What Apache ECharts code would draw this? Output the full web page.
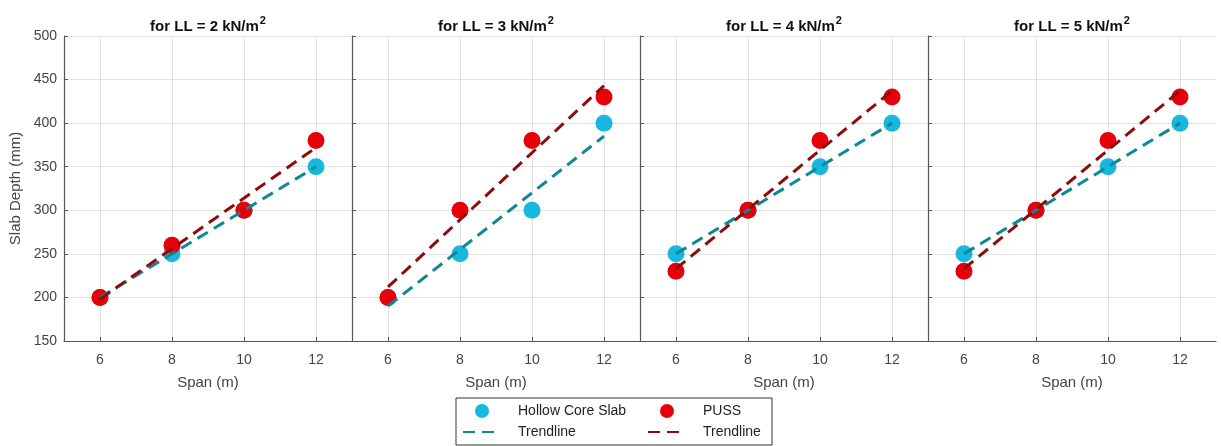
<!DOCTYPE html>
<html>
<head>
<meta charset="utf-8">
<script src="https://cdn.jsdelivr.net/npm/echarts@6/dist/echarts.min.js"></script>
<style>
  html, body { margin: 0; padding: 0; background: #fff; }
  #chart { width: 1221px; height: 446px; }
</style>
</head>
<body>
<div id="chart"></div>
<script>
// live loads shown in the four panels (kN/m2)
const loads = [2, 3, 4, 5];
const spans = [6, 8, 10, 12];

// slab depth (mm) for each load case
const hollowCore = [
  [200, 250, 300, 350],
  [200, 250, 300, 400],
  [250, 300, 350, 400],
  [250, 300, 350, 400],
];
const puss = [
  [200, 260, 300, 380],
  [200, 300, 380, 430],
  [230, 300, 380, 430],
  [230, 300, 380, 430],
];

// trendline end points: [depth at span 6, depth at span 12]
const trendSpans = [6, 12];
const hollowTrend = [
  [200, 350],
  [190, 385],
  [250, 400],
  [250, 400],
];
const pussTrend = [
  [198, 372],
  [212, 443],
  [233, 437],
  [233, 437],
];

const FONT = "Liberation Sans, Arial, sans-serif";
const cyan = "#16b8de";
const red = "#e6000a";
const teal = "#0f8797";
const darkRed = "#8e0c0c";

const chart = echarts.init(document.getElementById("chart"));

const gridLeft = 64, gridW = 288, gridTop = 36, gridH = 305;

const grids = [], xAxes = [], yAxes = [], series = [], titles = [];

loads.forEach((ll, i) => {
  grids.push({ left: gridLeft + i * gridW, top: gridTop, width: gridW, height: gridH });

  titles.push({
    text: "{a|for LL = " + ll + " kN/m}{s|2}",
    left: gridLeft + i * gridW + gridW / 2 - 5,
    top: 10,
    textAlign: "center",
    textStyle: {
      rich: {
        a: { fontFamily: FONT, fontSize: 15, fontWeight: "bold", color: "#111", verticalAlign: "bottom", lineHeight: 18 },
        s: { fontFamily: FONT, fontSize: 11, fontWeight: "bold", color: "#111", verticalAlign: "top", padding: [0, 0, 8, 1] },
      },
    },
  });

  xAxes.push({
    gridIndex: i,
    type: "value",
    min: 5,
    max: 13,
    name: "Span (m)",
    nameLocation: "middle",
    nameGap: 34,
    nameTextStyle: { fontFamily: FONT, fontSize: 15, color: "#444" },
    axisLine: { show: true, onZero: false, lineStyle: { color: "#555", width: 1.2 } },
    axisTick: { show: true, inside: true, length: 4, customValues: spans, lineStyle: { color: "#555" } },
    axisLabel: { customValues: spans, margin: 12, fontFamily: FONT, fontSize: 14, color: "#444" },
    splitLine: { show: true, lineStyle: { color: "#e2e2e2", width: 1 } },
  });

  yAxes.push({
    gridIndex: i,
    type: "value",
    min: 150,
    max: 500,
    interval: 50,
    name: i === 0 ? "Slab Depth (mm)" : "",
    nameLocation: "middle",
    nameGap: 41,
    nameTextStyle: { fontFamily: FONT, fontSize: 15, color: "#444" },
    axisLine: { show: true, onZero: false, lineStyle: { color: "#555", width: 1.2 } },
    axisTick: { show: true, inside: true, length: 4, lineStyle: { color: "#555" } },
    axisLabel: { show: i === 0, margin: 7, fontFamily: FONT, fontSize: 14, color: "#444" },
    splitLine: { show: true, lineStyle: { color: "#e2e2e2", width: 1 } },
  });

  series.push({
    name: "Hollow Core Slab",
    type: "scatter",
    xAxisIndex: i, yAxisIndex: i,
    symbolSize: 17,
    itemStyle: { color: cyan, opacity: 1 },
    z: 2,
    data: spans.map((s, k) => [s, hollowCore[i][k]]),
  });
  series.push({
    name: "PUSS",
    type: "scatter",
    xAxisIndex: i, yAxisIndex: i,
    symbolSize: 17,
    itemStyle: { color: red, opacity: 1 },
    z: 2,
    data: spans.map((s, k) => [s, puss[i][k]]),
  });
  series.push({
    name: "HCS Trendline",
    type: "line",
    xAxisIndex: i, yAxisIndex: i,
    symbol: "none",
    lineStyle: { color: teal, width: 3, type: [12, 7] },
    itemStyle: { color: teal },
    z: 3,
    data: trendSpans.map((s, k) => [s, hollowTrend[i][k]]),
  });
  series.push({
    name: "PUSS Trendline",
    type: "line",
    xAxisIndex: i, yAxisIndex: i,
    symbol: "none",
    lineStyle: { color: darkRed, width: 3, type: [12, 7] },
    itemStyle: { color: darkRed },
    z: 3,
    data: trendSpans.map((s, k) => [s, pussTrend[i][k]]),
  });
});

const legendBase = {
  orient: "vertical",
  top: 404,
  padding: 0,
  itemGap: 7,
  itemWidth: 38,
  itemHeight: 14,
  selectedMode: false,
  formatter: (name) => (name.indexOf("Trendline") >= 0 ? "Trendline" : name),
  textStyle: { fontFamily: FONT, fontSize: 14, color: "#222", padding: [0, 0, 0, 12] },
};

chart.setOption({
  animation: false,
  backgroundColor: "#fff",
  title: titles,
  grid: grids,
  xAxis: xAxes,
  yAxis: yAxes,
  series: series,
  legend: [
    Object.assign({}, legendBase, {
      left: 462,
      data: ["Hollow Core Slab", { name: "HCS Trendline", itemStyle: { opacity: 0 } }],
    }),
    Object.assign({}, legendBase, {
      left: 647,
      data: ["PUSS", { name: "PUSS Trendline", itemStyle: { opacity: 0 } }],
    }),
  ],
  graphic: [
    {
      type: "rect",
      shape: { x: 456, y: 398, width: 316, height: 47 },
      style: { fill: "none", stroke: "#333", lineWidth: 1 },
      silent: true,
    },
  ],
});
</script>
</body>
</html>
